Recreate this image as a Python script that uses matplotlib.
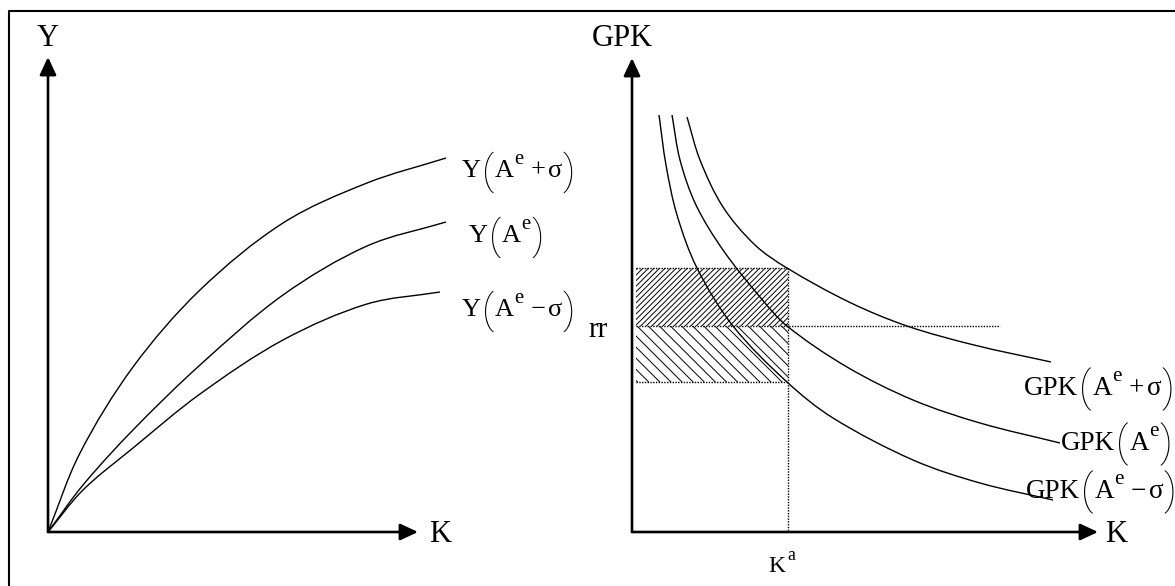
import numpy as np
import matplotlib
matplotlib.use("Agg")
import matplotlib.pyplot as plt
from matplotlib.path import Path
from matplotlib.patches import PathPatch, Rectangle

plt.rcParams["font.family"] = ["Liberation Serif", "DejaVu Serif"]
plt.rcParams["hatch.linewidth"] = 0.7

# ---- diagram geometry (pixel space, y downwards) ----
LEFT_ORIGIN = (48, 532)
LEFT_YTIP = (48, 57)
LEFT_XTIP = (418, 532)
RIGHT_ORIGIN = (632, 532)
RIGHT_YTIP = (632, 58)
RIGHT_XTIP = (1098, 532)

# production functions Y(K)
y_plus_x = [48, 80, 133, 200, 283, 367, 446]
y_plus_y = [532, 453, 367, 290, 223, 183, 158]
y_mid_x = [48, 83, 133, 200, 283, 367, 446]
y_mid_y = [532, 485, 430, 365, 295, 246, 222]
y_minus_x = [48, 83, 133, 200, 283, 367, 440]
y_minus_y = [532, 490, 448, 394, 340, 304, 292]

# marginal product of capital GPK(K)
g_minus_x = [659, 666, 677, 697, 733, 787, 833, 913, 980, 1053]
g_minus_y = [115, 165, 215, 268, 326, 382, 418, 460, 483, 500]
g_mid_x = [672, 680, 696, 723, 760, 787, 847, 913, 980, 1060]
g_mid_y = [115, 160, 205, 250, 297, 326, 367, 400, 423, 443]
g_plus_x = [687, 700, 723, 755, 787, 849, 907, 974, 1051]
g_plus_y = [117, 160, 207, 245, 268, 302, 326, 345, 362]

# dotted guides
rect_x0, rect_x1 = 636, 788
top_y, rr_y, low_y = 268, 326, 382
rr_end = 1000

# label texts
Y_NAME, GPK_NAME = "Y", "GPK"
ARG_PLUS, ARG_MID, ARG_MINUS = "+", None, "−"


def smooth_path(xs, ys):
    """Chord-length Catmull-Rom through the read points, as Bezier segments."""
    p = np.column_stack([xs, ys]).astype(float)
    d = np.r_[0, np.cumsum(np.hypot(*np.diff(p, axis=0).T))]
    m = np.zeros_like(p)
    m[0] = (p[1] - p[0]) / (d[1] - d[0])
    m[-1] = (p[-1] - p[-2]) / (d[-1] - d[-2])
    for i in range(1, len(p) - 1):
        m[i] = (p[i + 1] - p[i - 1]) / (d[i + 1] - d[i - 1])
    verts, codes = [p[0]], [Path.MOVETO]
    for i in range(len(p) - 1):
        h = d[i + 1] - d[i]
        verts += [p[i] + m[i] * h / 3, p[i + 1] - m[i + 1] * h / 3, p[i + 1]]
        codes += [Path.CURVE4] * 3
    return Path(verts, codes)


def curve(ax, xs, ys, lw=1.0):
    ax.add_patch(PathPatch(smooth_path(xs, ys), fill=False, lw=lw, ec="black"))


def arrow(ax, start, tip):
    ax.annotate("", xy=tip, xytext=start,
                arrowprops=dict(arrowstyle="-|>,head_length=0.9,head_width=0.42",
                                mutation_scale=12, lw=1.9, color="black",
                                shrinkA=0, shrinkB=0))


def run_text(ax, x, baseline, pieces, fs):
    """Lay out (text, size factor, raise factor, gap px, family) pieces left to right."""
    renderer = ax.figure.canvas.get_renderer()
    em = fs * 100 / 72
    cx = x
    for s, sf, rf, gap, fam in pieces:
        t = ax.text(cx, baseline - rf * em, s, fontsize=fs * sf, family=fam,
                    ha="left", va="baseline", fontweight="light")
        cx += t.get_window_extent(renderer).width + gap


def func_label(ax, x, baseline, name, op, fs):
    serif, thin = "Liberation Serif", ["Roboto", "DejaVu Sans"]
    pieces = [(name, 1, 0, 1, serif),
              ("(", 1.55, -0.24, 1, thin),
              ("A", 1, 0, 0, serif),
              ("e", 0.78, 0.5, 7 if op else 1, serif)]
    if op:
        pieces += [(op, 1, 0, 3, serif), ("σ", 1, 0, 0, serif)]
    pieces += [(")", 1.55, -0.24, 0, thin)]
    run_text(ax, x, baseline, pieces, fs)


fig = plt.figure(figsize=(11.75, 5.86), dpi=100)
ax = fig.add_axes([0, 0, 1, 1])
ax.set_xlim(0, 1175)
ax.set_ylim(586, 0)
ax.axis("off")

# outer frame (right and bottom edges fall outside the picture)
ax.plot([9, 9, 1180], [600, 11, 11], color="black", lw=1.5, solid_capstyle="butt")

# ---- left panel ----
arrow(ax, LEFT_ORIGIN, LEFT_YTIP)
arrow(ax, LEFT_ORIGIN, LEFT_XTIP)
for xs, ys in [(y_plus_x, y_plus_y), (y_mid_x, y_mid_y), (y_minus_x, y_minus_y)]:
    curve(ax, xs, ys)

ax.text(48, 38, "Y", fontsize=22, ha="center", va="center")
ax.text(440, 534, "K", fontsize=22, ha="center", va="center")

func_label(ax, 462, 177, Y_NAME, ARG_PLUS, 19)
func_label(ax, 469, 242, Y_NAME, ARG_MID, 19)
func_label(ax, 462, 316, Y_NAME, ARG_MINUS, 19)

# ---- right panel ----
ax.add_patch(Rectangle((rect_x0, top_y), rect_x1 - rect_x0, rr_y - top_y,
                       fill=False, hatch="//////", lw=0, ec="black"))
ax.add_patch(Rectangle((rect_x0, rr_y), rect_x1 - rect_x0, low_y - rr_y,
                       fill=False, hatch="\\\\\\", lw=0, ec="black"))
dot = dict(color="black", lw=1.0, ls=(0, (1, 1)))
ax.plot([rect_x0, rect_x1], [top_y, top_y], **dot)
ax.plot([rect_x0, rr_end], [rr_y, rr_y], **dot)
ax.plot([rect_x0, rect_x1], [low_y, low_y], **dot)
ax.plot([rect_x1, rect_x1], [top_y, RIGHT_ORIGIN[1]], **dot)

for xs, ys in [(g_minus_x, g_minus_y), (g_mid_x, g_mid_y), (g_plus_x, g_plus_y)]:
    curve(ax, xs, ys)

arrow(ax, RIGHT_ORIGIN, RIGHT_YTIP)
arrow(ax, RIGHT_ORIGIN, RIGHT_XTIP)

ax.text(622, 39, "GPK", fontsize=22, ha="center", va="center")
ax.text(1116, 534, "K", fontsize=22, ha="center", va="center")
ax.text(598, 330, "rr", fontsize=21, ha="center", va="center")
run_text(ax, 768, 572, [("K", 1, 0, 2, "Liberation Serif"),
                        ("a", 0.75, 0.5, 0, "Liberation Serif")], 17)

func_label(ax, 1024, 395, GPK_NAME, ARG_PLUS, 19.5)
func_label(ax, 1061, 450, GPK_NAME, ARG_MID, 19.5)
func_label(ax, 1026, 498, GPK_NAME, ARG_MINUS, 19.5)

fig.savefig("out.png", dpi=100, facecolor="white")
